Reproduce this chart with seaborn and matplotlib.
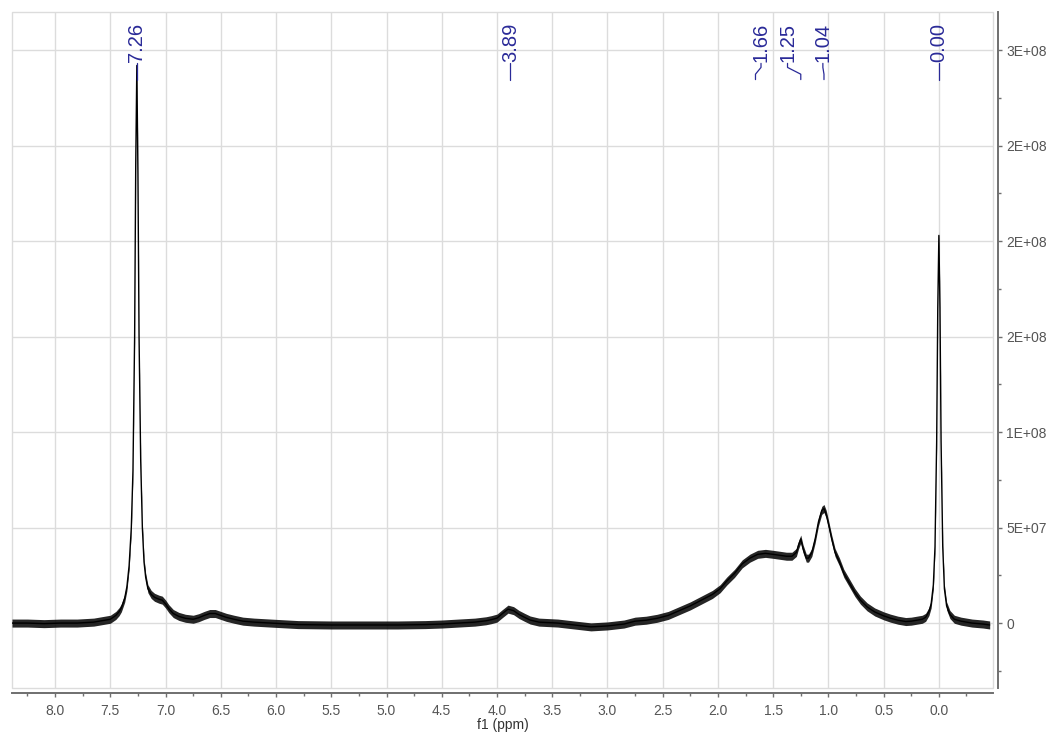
import numpy as np
import pandas as pd
import matplotlib
matplotlib.use("Agg")
import matplotlib.pyplot as plt
from matplotlib.patches import Rectangle
from matplotlib.ticker import MultipleLocator, FuncFormatter
import seaborn as sns

# 1H NMR trace: chemical shift (ppm) and intensity (in units of 1e6)
ppm = [
    8.39, 8.25, 8.10, 7.95, 7.80, 7.65, 7.55, 7.50, 7.45, 7.42, 7.40, 7.37,
    7.35, 7.33, 7.31, 7.295, 7.28, 7.27, 7.26, 7.25, 7.24, 7.225, 7.21,
    7.195, 7.18, 7.16, 7.13, 7.10, 7.06, 7.03, 7.00, 6.97, 6.93, 6.88,
    6.82, 6.75, 6.70, 6.65, 6.60, 6.55, 6.50, 6.45, 6.38, 6.30, 6.20,
    6.05, 5.80, 5.50, 5.20, 4.90, 4.65, 4.50, 4.35, 4.20, 4.10, 4.05,
    4.00, 3.95, 3.90, 3.85, 3.80, 3.75, 3.70, 3.62, 3.45, 3.30, 3.15,
    3.00, 2.85, 2.75, 2.65, 2.55, 2.45, 2.35, 2.25, 2.15, 2.05, 1.98,
    1.92, 1.85, 1.78, 1.71, 1.64, 1.57, 1.50, 1.44, 1.38, 1.33, 1.29,
    1.27, 1.25, 1.23, 1.20, 1.18, 1.15, 1.12, 1.09, 1.06, 1.04, 1.02,
    1.00, 0.97, 0.94, 0.90, 0.86, 0.81, 0.76, 0.71, 0.65, 0.58, 0.50,
    0.44, 0.37, 0.30, 0.25, 0.20, 0.15, 0.12, 0.09, 0.07, 0.05, 0.035,
    0.02, 0.01, 0.00, -0.01, -0.02, -0.035, -0.05, -0.07, -0.10, -0.14,
    -0.20, -0.30, -0.40, -0.46,
]
intensity_m = [
    0.0, 0.0, -0.3, 0.0, 0.0, 0.5, 1.5, 2.0, 4.0, 6.0, 8.0, 13.0,
    19.0, 30.0, 50.0, 80.0, 150.0, 240.0, 292.0, 235.0, 150.0, 85.0, 50.0,
    32.0, 24.0, 18.0, 15.0, 13.5, 12.5, 12.0, 10.0, 7.5, 5.0, 3.5,
    2.5, 2.0, 2.8, 4.0, 5.0, 5.0, 4.0, 3.0, 2.0, 1.0, 0.5,
    0.0, -0.8, -1.0, -1.0, -1.0, -0.8, -0.5, 0.0, 0.5, 1.2, 1.8,
    2.6, 5.0, 7.3, 6.5, 4.5, 3.0, 1.6, 0.5, 0.0, -1.0, -2.0,
    -1.5, -0.5, 1.0, 1.5, 2.5, 4.0, 6.5, 9.0, 12.0, 15.0, 18.0,
    22.0, 26.0, 31.0, 34.0, 36.0, 36.5, 36.0, 35.5, 35.0, 35.0, 37.0,
    41.0, 44.0, 39.0, 34.0, 34.0, 37.0, 44.0, 53.0, 59.0, 60.0, 57.0,
    52.0, 44.0, 37.0, 32.0, 26.0, 21.0, 16.0, 12.0, 8.5, 5.8, 3.8,
    2.6, 1.5, 0.8, 1.0, 1.5, 2.0, 3.0, 6.0, 10.0, 20.0, 40.0,
    95.0, 165.0, 203.0, 165.0, 95.0, 40.0, 18.0, 9.0, 4.5, 2.0,
    1.0, 0.0, -0.5, -1.0,
]

# Peak picks: label text, label anchor (ppm) and peak position (ppm)
peak_text = ["7.26", "3.89", "1.66", "1.25", "1.04", "0.00"]
peak_label_ppm = [7.26, 3.88, 1.61, 1.37, 1.05, 0.00]
peak_pos_ppm = [7.26, 3.88, 1.66, 1.25, 1.04, 0.00]

x_ticks = [8.0, 7.5, 7.0, 6.5, 6.0, 5.5, 5.0, 4.5, 4.0, 3.5, 3.0, 2.5, 2.0, 1.5, 1.0, 0.5, 0.0]
y_ticks = [0, 5e7, 1e8, 1.5e8, 2e8, 2.5e8, 3e8]

df = pd.DataFrame({"ppm": ppm, "intensity": np.array(intensity_m) * 1e6})

GRID = "#dcdcdc"
AXIS = "#6f6f6f"
TICKTXT = "#555555"
BLUE = "#2a2a98"
NOISE = 2.1e6  # half-height of the baseline noise band

sns.set_style("white")
plt.rcParams["font.family"] = ["Liberation Sans", "DejaVu Sans"]

fig = plt.figure(figsize=(10.52, 7.34), dpi=100)
ax = fig.add_axes([12 / 1052, 1 - 688 / 734, 981 / 1052, 676 / 734])

# noisy trace drawn as a dark band around the line
ax.fill_between(df["ppm"], df["intensity"] - NOISE, df["intensity"] + NOISE,
                color="black", lw=0, alpha=0.85, zorder=3)
sns.lineplot(data=df, x="ppm", y="intensity", ax=ax, color="black",
             lw=1.0, estimator=None, sort=False, zorder=4)

ax.set_xlim(8.39, -0.49)
ax.set_ylim(-3.4e7, 3.2e8)

# grid and light frame
ax.set_xticks(x_ticks)
ax.set_yticks(y_ticks)
ax.xaxis.set_minor_locator(MultipleLocator(0.25))
ax.yaxis.set_minor_locator(MultipleLocator(2.5e7))
ax.grid(True, which="major", color=GRID, lw=1.0)
ax.add_patch(Rectangle((0, 0), 1, 1, transform=ax.transAxes, fill=False,
                       ec=GRID, lw=1.0, clip_on=False, zorder=1))

for side in ["left", "top"]:
    ax.spines[side].set_visible(False)
for side in ["bottom", "right"]:
    ax.spines[side].set_visible(True)
    ax.spines[side].set_position(("outward", 3.6))
    ax.spines[side].set_color(AXIS)
    ax.spines[side].set_linewidth(1.4)

ax.yaxis.tick_right()
ax.yaxis.set_label_position("right")
ax.xaxis.set_major_formatter(FuncFormatter(lambda v, p: f"{v:.1f}"))
ax.yaxis.set_major_formatter(FuncFormatter(lambda v, p: "0" if v == 0 else "%.0E" % v))
ax.tick_params(axis="both", which="major", direction="out", length=3, width=1,
               color=AXIS, labelsize=10, labelcolor=TICKTXT, pad=5)
ax.tick_params(axis="both", which="minor", direction="out", length=2.5, width=1,
               color=AXIS)
ax.tick_params(axis="y", which="both", left=False, right=True, labelleft=False,
               labelright=True, pad=3)
ax.tick_params(axis="x", which="both", top=False, bottom=True)

ax.set_ylabel("")
ax.set_xlabel("f1 (ppm)", fontsize=10, color="#333333", labelpad=0)

# peak labels with leader lines
tr = ax.get_xaxis_transform()
y_text = 0.926
for txt, lx, px in zip(peak_text, peak_label_ppm, peak_pos_ppm):
    ax.text(lx, y_text, txt, transform=tr, rotation=90, ha="center",
            va="bottom", color=BLUE, fontsize=14.5, zorder=6)
    ax.plot([lx, lx, px, px], [y_text - 0.002, 0.918, 0.908, 0.900],
            transform=tr, color=BLUE, lw=0.9, zorder=6, clip_on=False)

fig.savefig("out.png", dpi=100)
